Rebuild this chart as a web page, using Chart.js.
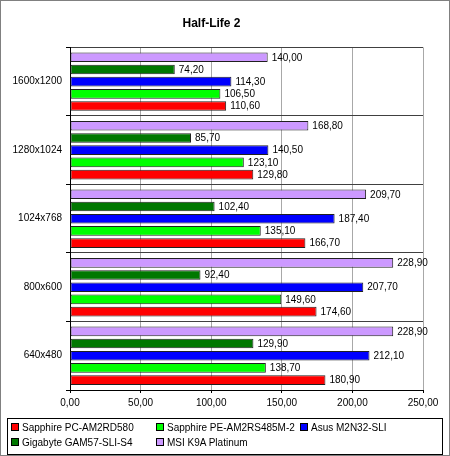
<!DOCTYPE html>
<html>
<head>
<meta charset="utf-8">
<script src="https://cdn.jsdelivr.net/npm/chart.js@4/dist/chart.umd.min.js"></script>
<style>
  body { margin: 0; background: #fff; }
  #wrap { position: relative; width: 450px; height: 456px; font-family: Arial, "Liberation Sans", sans-serif; }
  #chart { position: absolute; left: 0; top: 0; }
  #frame { position: absolute; left: 0; top: 0; width: 450px; height: 456px; box-sizing: border-box; border: 1px solid #808080; pointer-events: none; }
  #legend { position: absolute; left: 7px; top: 418px; width: 436px; height: 37px; box-sizing: border-box; border: 1px solid #000; font-size: 10px; }
  .item { position: absolute; height: 12px; line-height: 12px; white-space: nowrap; }
  .box { display: inline-block; width: 6px; height: 6px; border: 1px solid #000; margin-right: 3px; vertical-align: 0px; }
</style>
</head>
<body>
<div id="wrap">
  <canvas id="chart" width="450" height="456"></canvas>
  <div id="legend"></div>
  <div id="frame"></div>
</div>
<script>
// resolutions, top to bottom
const categories = ['1600x1200', '1280x1024', '1024x768', '800x600', '640x480'];

const sapphirePC = [110.6, 129.8, 166.7, 174.6, 180.9];
const sapphirePE = [106.5, 123.1, 135.1, 149.6, 138.7];
const asus = [114.3, 140.5, 187.4, 207.7, 212.1];
const gigabyte = [74.2, 85.7, 102.4, 92.4, 129.9];
const msi = [140.0, 168.8, 209.7, 228.9, 228.9];

const xTicks = [0, 50, 100, 150, 200, 250];

// legend order
const series = [
  { label: 'Sapphire PC-AM2RD580', data: sapphirePC, color: '#ff0000' },
  { label: 'Sapphire PE-AM2RS485M-2', data: sapphirePE, color: '#00ff00' },
  { label: 'Asus M2N32-SLI', data: asus, color: '#0000ff' },
  { label: 'Gigabyte GAM57-SLI-S4', data: gigabyte, color: '#007800' },
  { label: 'MSI K9A Platinum', data: msi, color: '#cc99ff' }
];

const fmt = v => v.toFixed(2).replace('.', ',');

// value labels at the end of each bar
const valueLabels = {
  id: 'valueLabels',
  afterDatasetsDraw(chart) {
    const ctx = chart.ctx;
    ctx.save();
    ctx.font = '10px Arial, "Liberation Sans", sans-serif';
    ctx.fillStyle = '#000';
    ctx.textBaseline = 'middle';
    ctx.textAlign = 'left';
    chart.data.datasets.forEach((ds, i) => {
      chart.getDatasetMeta(i).data.forEach((bar, j) => {
        ctx.fillText(fmt(ds.data[j]), bar.x + 4, bar.y + 0.5);
      });
    });
    ctx.restore();
  }
};

const datasets = series.slice().reverse().map(s => ({
  label: s.label,
  data: s.data,
  backgroundColor: s.color,
  borderColor: '#202020',
  borderWidth: 1,
  borderSkipped: false,
  categoryPercentage: 0.89,
  barPercentage: 0.79
}));

new Chart(document.getElementById('chart'), {
  type: 'bar',
  data: { labels: categories, datasets: datasets },
  options: {
    indexAxis: 'y',
    responsive: false,
    animation: false,
    devicePixelRatio: 1,
    layout: { padding: { left: 0, right: 27, top: 0, bottom: 38 } },
    plugins: {
      legend: { display: false },
      tooltip: { enabled: false },
      title: {
        display: true,
        text: 'Half-Life 2',
        color: '#000',
        font: { family: 'Arial, "Liberation Sans", sans-serif', size: 12, weight: 'bold' },
        padding: { top: 16, bottom: 17 }
      }
    },
    scales: {
      x: {
        min: 0,
        max: 250,
        afterBuildTicks: scale => { scale.ticks = xTicks.map(v => ({ value: v })); },
        afterFit: scale => { scale.height = 28; },
        grid: { color: '#a8a8a8', tickColor: '#000', tickLength: 3 },
        border: { color: '#000' },
        ticks: {
          color: '#000',
          padding: 4,
          maxRotation: 0,
          font: { family: 'Arial, "Liberation Sans", sans-serif', size: 10 },
          callback: v => fmt(v)
        }
      },
      y: {
        afterFit: scale => { scale.width = 70; },
        grid: { color: '#404040', tickColor: '#000', tickLength: 4, offset: true },
        border: { color: '#000' },
        ticks: {
          color: '#000',
          padding: 4,
          font: { family: 'Arial, "Liberation Sans", sans-serif', size: 10 }
        }
      }
    }
  },
  plugins: [valueLabels]
});

// legend box below the chart, three columns
const legend = document.getElementById('legend');
const colX = [3, 148, 292];
series.forEach((s, i) => {
  const el = document.createElement('div');
  el.className = 'item';
  el.style.left = colX[i % 3] + 'px';
  el.style.top = (3 + Math.floor(i / 3) * 15) + 'px';
  el.innerHTML = '<span class="box" style="background:' + s.color + '"></span>' + s.label;
  legend.appendChild(el);
});
</script>
</body>
</html>
